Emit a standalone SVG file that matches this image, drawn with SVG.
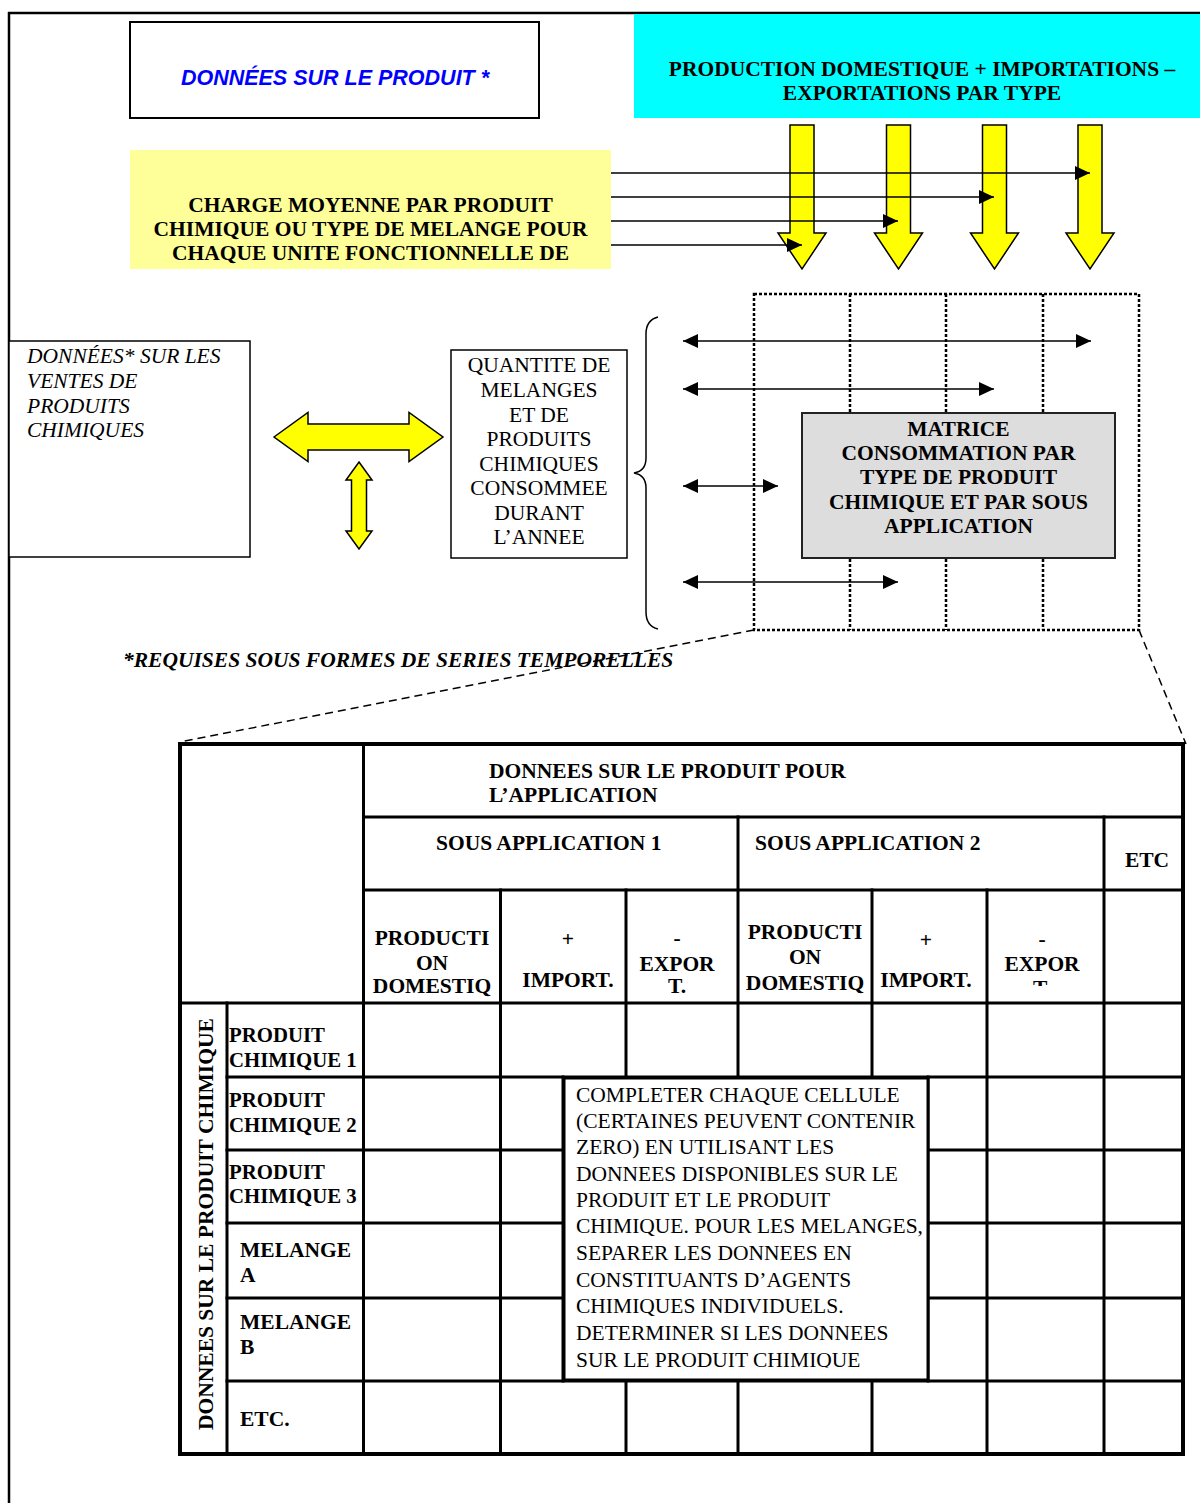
<svg xmlns="http://www.w3.org/2000/svg" width="1200" height="1503" viewBox="0 0 1200 1503">
<defs>
<style>
.t{font-family:"Liberation Serif","Times New Roman",serif;font-size:21.5px;fill:#000}
.b{font-weight:bold}
.i{font-style:italic}
.c{text-anchor:middle}
.rh{font-size:20.8px}
.ya{fill:#FFFF00;stroke:#000;stroke-width:1.5}
.ln{stroke:#000;stroke-width:1.5;fill:none}
.dot{stroke:#000;stroke-width:2.5;fill:none;stroke-dasharray:3,2}
.dash{stroke:#000;stroke-width:1.5;fill:none;stroke-dasharray:8,5}
.tb{stroke:#000;stroke-width:3;fill:none;stroke-linecap:square}
</style>
<marker id="ah" viewBox="0 0 15 14" refX="15" refY="7" markerWidth="15" markerHeight="14" markerUnits="userSpaceOnUse" orient="auto-start-reverse">
<path d="M0,0 L15,7 L0,14 z" fill="#000"/>
</marker>
<clipPath id="clipT"><rect x="990" y="890" width="112" height="96"/></clipPath>
<clipPath id="clipBox"><rect x="565" y="1079" width="362" height="288.5"/></clipPath>
</defs>
<rect width="1200" height="1503" fill="#fff"/>
<path d="M8,13 H1200 M9,12 V1503" stroke="#000" stroke-width="2.5" fill="none"/>

<g id="produit-data">
<rect x="130" y="22" width="409" height="96" fill="#fff" stroke="#000" stroke-width="2"/>
<text x="335" y="85" text-anchor="middle" font-family="Liberation Sans, Arial, sans-serif" font-size="21.5" font-weight="bold" font-style="italic" fill="#0000FF">DONNÉES SUR LE PRODUIT *</text>
</g>

<g id="production">
<rect x="634" y="14" width="566" height="104" fill="#00FFFF"/>
<text class="t b c" x="922" y="76">PRODUCTION DOMESTIQUE + IMPORTATIONS –</text>
<text class="t b c" x="922" y="100">EXPORTATIONS PAR TYPE</text>
</g>

<g id="charge">
<rect x="130" y="150" width="481" height="119" fill="#FFFF99"/>
<text class="t b c" x="370.5" y="212">CHARGE MOYENNE PAR PRODUIT</text>
<text class="t b c" x="370.5" y="236">CHIMIQUE OU TYPE DE MELANGE POUR</text>
<text class="t b c" x="370.5" y="260">CHAQUE UNITE FONCTIONNELLE DE</text>
</g>

<g id="ventes">
<rect x="9" y="341" width="241" height="216" fill="#fff" stroke="#000" stroke-width="1.5"/>
<text class="t i" x="27" y="363">DONNÉES* SUR LES</text>
<text class="t i" x="27" y="388">VENTES DE</text>
<text class="t i" x="27" y="413">PRODUITS</text>
<text class="t i" x="27" y="437">CHIMIQUES</text>
</g>

<g id="quantite">
<rect x="451" y="350" width="176" height="208" fill="#fff" stroke="#000" stroke-width="1.5"/>
<text class="t c" x="539" y="372">QUANTITE DE</text>
<text class="t c" x="539" y="397">MELANGES</text>
<text class="t c" x="539" y="422">ET DE</text>
<text class="t c" x="539" y="446">PRODUITS</text>
<text class="t c" x="539" y="471">CHIMIQUES</text>
<text class="t c" x="539" y="495">CONSOMMEE</text>
<text class="t c" x="539" y="520">DURANT</text>
<text class="t c" x="539" y="544">L’ANNEE</text>
</g>

<g id="matrix-frame">
<rect class="dot" x="754" y="294" width="385" height="336"/>
<path class="dot" d="M850,294 V630 M946,294 V630 M1043,294 V630"/>
</g>

<g id="connectors">
<polygon class="ya" points="790,125 814,125 814,233 826,233 802,269 778,233 790,233"/>
<polygon class="ya" points="886.5,125 910.5,125 910.5,233 922.5,233 898.5,269 874.5,233 886.5,233"/>
<polygon class="ya" points="982.5,125 1006.5,125 1006.5,233 1018.5,233 994.5,269 970.5,233 982.5,233"/>
<polygon class="ya" points="1078,125 1102,125 1102,233 1114,233 1090,269 1066,233 1078,233"/>
<line class="ln" x1="611" y1="173" x2="1090" y2="173" marker-end="url(#ah)"/>
<line class="ln" x1="611" y1="197" x2="994" y2="197" marker-end="url(#ah)"/>
<line class="ln" x1="611" y1="221" x2="898" y2="221" marker-end="url(#ah)"/>
<line class="ln" x1="611" y1="245" x2="802" y2="245" marker-end="url(#ah)"/>
<polygon class="ya" points="274,437 308,412.5 308,424 409,424 409,412.5 443,437 409,461.5 409,450 308,450 308,461.5"/>
<polygon class="ya" points="359,462 372,480 366.5,480 366.5,531 372,531 359,549 346,531 351.5,531 351.5,480 346,480"/>
<path class="ln" d="M658,317 Q646,320 646,334 V458 Q646,471 634,473 Q646,475 646,488 V612 Q646,626 658,629"/>
<line class="ln" x1="683" y1="341" x2="1091" y2="341" marker-start="url(#ah)" marker-end="url(#ah)"/>
<line class="ln" x1="683" y1="389" x2="994" y2="389" marker-start="url(#ah)" marker-end="url(#ah)"/>
<line class="ln" x1="683" y1="486" x2="778" y2="486" marker-start="url(#ah)" marker-end="url(#ah)"/>
<line class="ln" x1="683" y1="582" x2="898" y2="582" marker-start="url(#ah)" marker-end="url(#ah)"/>
<line class="dash" x1="754" y1="630" x2="180" y2="742"/>
<line class="dash" x1="1139" y1="630" x2="1186" y2="744"/>
</g>

<g id="matrice">
<rect x="802" y="413" width="313" height="145" fill="#DDDDDD" stroke="#222" stroke-width="2"/>
<text class="t b c" x="958.5" y="436">MATRICE</text>
<text class="t b c" x="958.5" y="460">CONSOMMATION PAR</text>
<text class="t b c" x="958.5" y="484">TYPE DE PRODUIT</text>
<text class="t b c" x="958.5" y="509">CHIMIQUE ET PAR SOUS</text>
<text class="t b c" x="958.5" y="533">APPLICATION</text>
</g>

<g id="note">
<text class="t b i" x="123" y="667">*REQUISES SOUS FORMES DE SERIES TEMPORELLES</text>
</g>

<g id="table">
<rect x="180" y="744" width="1003" height="710" fill="none" stroke="#000" stroke-width="4"/>
<path class="tb" d="M363.5,817 H1183 M363.5,890 H1183 M180,1003 H1183 M227,1077 H1183 M227,1150 H563 M928,1150 H1183 M227,1223 H563 M928,1223 H1183 M227,1298 H563 M928,1298 H1183 M227,1381 H1183"/>
<path class="tb" d="M227,1003 V1454 M363.5,744 V1454 M500.5,890 V1454 M563,1077 V1381 M626,890 V1077 M626,1381 V1454 M738,817 V1077 M738,1381 V1454 M872,890 V1077 M872,1381 V1454 M928,1077 V1381 M987,890 V1454 M1104,817 V1454"/>
<text class="t b" x="489" y="778">DONNEES SUR LE PRODUIT POUR</text>
<text class="t b" x="489" y="802">L’APPLICATION</text>
<text class="t b" x="436" y="850">SOUS APPLICATION 1</text>
<text class="t b" x="755" y="850">SOUS APPLICATION 2</text>
<text class="t b c" x="1147" y="867">ETC</text>
<text class="t b c" x="432" y="945">PRODUCTI</text>
<text class="t b c" x="432" y="970">ON</text>
<text class="t b c" x="432" y="993">DOMESTIQ</text>
<text class="t b c" x="568" y="946">+</text>
<text class="t b c" x="568" y="987">IMPORT.</text>
<text class="t b c" x="677" y="945">-</text>
<text class="t b c" x="677" y="971">EXPOR</text>
<text class="t b c" x="677" y="993">T.</text>
<text class="t b c" x="805" y="939">PRODUCTI</text>
<text class="t b c" x="805" y="964">ON</text>
<text class="t b c" x="805" y="990">DOMESTIQ</text>
<text class="t b c" x="926" y="947">+</text>
<text class="t b c" x="926" y="987">IMPORT.</text>
<text class="t b c" x="1042" y="946">-</text>
<text class="t b c" x="1042" y="971">EXPOR</text>
<text class="t b c" x="1042" y="995" clip-path="url(#clipT)">T.</text>
<text class="t b" transform="translate(213,1430) rotate(-90)">DONNEES SUR LE PRODUIT CHIMIQUE</text>
<text class="t b rh" x="229" y="1042">PRODUIT</text>
<text class="t b rh" x="229" y="1067">CHIMIQUE 1</text>
<text class="t b rh" x="229" y="1107">PRODUIT</text>
<text class="t b rh" x="229" y="1132">CHIMIQUE 2</text>
<text class="t b rh" x="229" y="1179">PRODUIT</text>
<text class="t b rh" x="229" y="1203">CHIMIQUE 3</text>
<text class="t b" x="240" y="1257">MELANGE</text>
<text class="t b" x="240" y="1282">A</text>
<text class="t b" x="240" y="1329">MELANGE</text>
<text class="t b" x="240" y="1354">B</text>
<text class="t b" x="240" y="1426">ETC.</text>
</g>

<g id="instructions">
<rect x="564" y="1078" width="364" height="302" fill="#fff" stroke="#000" stroke-width="3"/>
<g clip-path="url(#clipBox)">
<text class="t" x="576" y="1102">COMPLETER CHAQUE CELLULE</text>
<text class="t" x="576" y="1128">(CERTAINES PEUVENT CONTENIR</text>
<text class="t" x="576" y="1154">ZERO) EN UTILISANT LES</text>
<text class="t" x="576" y="1181">DONNEES DISPONIBLES SUR LE</text>
<text class="t" x="576" y="1207">PRODUIT ET LE PRODUIT</text>
<text class="t" x="576" y="1233">CHIMIQUE. POUR LES MELANGES,</text>
<text class="t" x="576" y="1260">SEPARER LES DONNEES EN</text>
<text class="t" x="576" y="1287">CONSTITUANTS D’AGENTS</text>
<text class="t" x="576" y="1313">CHIMIQUES INDIVIDUELS.</text>
<text class="t" x="576" y="1340">DETERMINER SI LES DONNEES</text>
<text class="t" x="576" y="1367">SUR LE PRODUIT CHIMIQUE</text>
</g>
</g>
</svg>
